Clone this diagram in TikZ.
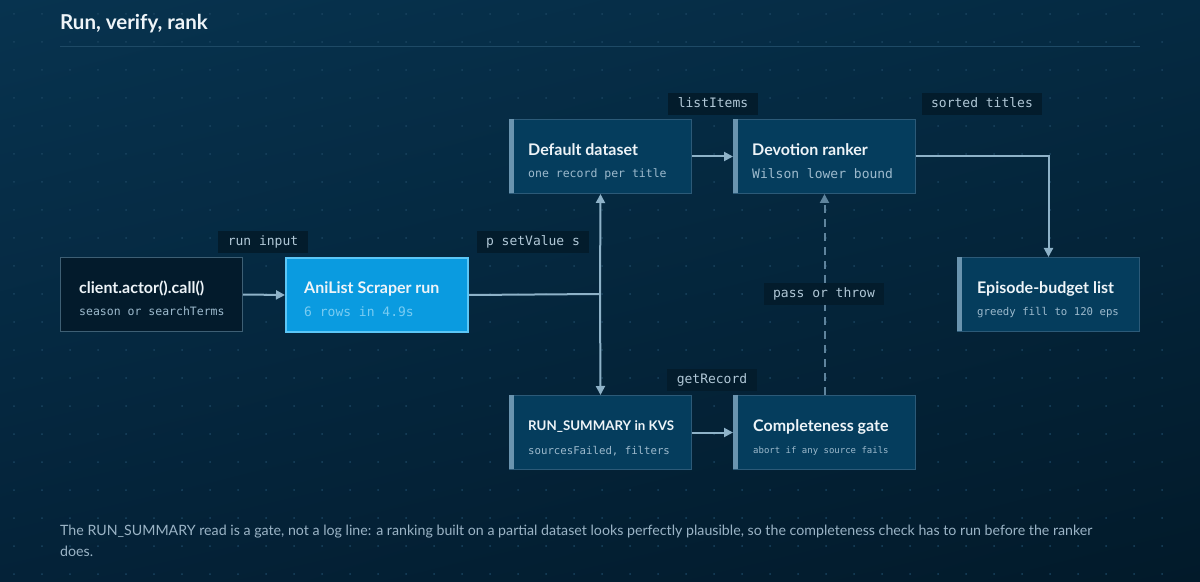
\documentclass[tikz,border=0pt]{standalone}
\usepackage{fontspec}
\setmainfont{Lato}
\newfontfamily\monofont{DejaVu Sans Mono}
\usetikzlibrary{arrows.meta,positioning,shadings}
\definecolor{bgA}{HTML}{07334F}
\definecolor{bgB}{HTML}{052A42}
\definecolor{bgC}{HTML}{042238}
\definecolor{bgD}{HTML}{021A2A}
\definecolor{dotc}{HTML}{1A4460}
\definecolor{rulec}{HTML}{1E4A66}
\definecolor{cardbg}{HTML}{053D5D}
\definecolor{cardline}{HTML}{2C5A78}
\definecolor{accent}{HTML}{6A94AF}
\definecolor{darkbg}{HTML}{031B2C}
\definecolor{darkline}{HTML}{3E5F74}
\definecolor{runbg}{HTML}{0A9BE0}
\definecolor{runline}{HTML}{5CC6F6}
\definecolor{runsub}{HTML}{79CCF2}
\definecolor{tagbg}{HTML}{031C2C}
\definecolor{linkc}{HTML}{8EB2C8}
\definecolor{gatec}{HTML}{5F849D}
\definecolor{headc}{HTML}{EEF4F8}
\definecolor{subc}{HTML}{9DBACD}
\definecolor{capc}{HTML}{9BB4C6}
\tikzset{
  card/.style={draw=cardline,line width=1bp,fill=cardbg,minimum width=182bp,minimum height=74bp,inner sep=0pt,anchor=north west},
  darkcard/.style={card,draw=darkline,fill=darkbg},
  runcard/.style={card,draw=runline,line width=2bp,fill=runbg},
  ttl/.style={anchor=base west,inner sep=0pt,text=headc,font=\fontsize{16bp}{18bp}\selectfont\bfseries},
  sub/.style={anchor=base west,inner sep=0pt,text=subc,font=\monofont\fontsize{11.5bp}{14bp}\selectfont},
  tag/.style={fill=tagbg,inner xsep=9.5bp,inner ysep=0pt,minimum height=22bp,text height=9bp,text depth=2.5bp,text=subc!80!white,font=\monofont\fontsize{13bp}{15bp}\selectfont},
  link/.style={draw=linkc,line width=2bp},
  ar/.style={link,-{Triangle[length=9bp,width=9bp]}},
  dashar/.style={draw=gatec,line width=2bp,dash pattern=on 8bp off 6bp,-{Triangle[length=9bp,width=9bp]}}
}
\begin{document}
\begin{tikzpicture}[x=1bp,y=-1bp]
% backdrop
\shade[upper left=bgA,upper right=bgB,lower left=bgC,lower right=bgD] (0,0) rectangle (1200,582);
\useasboundingbox (0,0) rectangle (1200,582);
\foreach \i in {14,42,...,1186}{\foreach \j in {14,42,...,574}{\fill[dotc] (\i,\j) circle (1bp);}}
\node[anchor=base west,inner sep=0pt,text=headc,font=\fontsize{20.5bp}{24bp}\selectfont\bfseries] (head) at (60,29.5) {Run, verify, rank};
\draw[rulec,line width=1bp] (60,47)--(1140,47);

% cards
\node[darkcard] (client) at (60,257) {};
\node[runcard] (run) at (285,257) {};
\node[card] (dflt) at (509,119) {};
\node[card] (devo) at (733,119) {};
\node[card] (epis) at (957,257) {};
\node[card] (summ) at (509,395) {};
\node[card] (gate) at (733,395) {};
\foreach \c in {dflt,devo,epis,summ,gate}{\fill[accent] (\c.north west) rectangle ++(5,74);}

\node[ttl] (client-t) at (79,294) {client.actor().call()};
\node[sub] (client-s) at (79,316) {season or searchTerms};
\node[ttl] (run-t) at (304,294) {AniList Scraper run};
\node[sub,text=runsub,font=\monofont\fontsize{13bp}{15bp}\selectfont] (run-s) at (304,317) {6 rows in 4.9s};
\node[ttl] (dflt-t) at (528,156) {Default dataset};
\node[sub] (dflt-s) at (528,178) {one record per title};
\node[ttl] (devo-t) at (752,156) {Devotion ranker};
\node[sub,font=\monofont\fontsize{13bp}{15bp}\selectfont] (devo-s) at (752,179) {Wilson lower bound};
\node[ttl] (epis-t) at (977,294) {Episode-budget list};
\node[sub,font=\monofont\fontsize{10.7bp}{13bp}\selectfont] (epis-s) at (977,316) {greedy fill to 120 eps};
\node[ttl,font=\fontsize{13.3bp}{16bp}\selectfont\bfseries] (summ-t) at (528,430) {RUN\_SUMMARY in KVS};
\node[sub,font=\monofont\fontsize{10.7bp}{13bp}\selectfont] (summ-s) at (528,454) {sourcesFailed, filters};
\node[ttl] (gate-t) at (753,431.5) {Completeness gate};
\node[sub,font=\monofont\fontsize{9bp}{11bp}\selectfont] (gate-s) at (753,453.5) {abort if any source fails};

% connectors
\coordinate (fan) at (600,294);
\draw[ar] (client.east) -- (run.west);
\draw[link] (run.east) -- (fan);
\draw[ar] (fan) -- (dflt.south);
\draw[ar] (fan) -- (summ.north);
\draw[ar] (dflt.east) -- (devo.west);
\draw[ar] (summ.east) -- (gate.west);
\draw[ar] (devo.east) -| (epis.north);
\draw[dashar] (gate.north) -- (devo.south);

% tags
\node[tag] (runin) at (263,242) {run input};
\node[tag] (setval) at (533,242) {p setValue s};
\node[tag] (items) at (713,104) {listItems};
\node[tag] (sorted) at (982,104) {sorted titles};
\node[tag] (rec) at (712,380) {getRecord};
\node[tag] (pass) at (824,294) {pass or throw};

% caption
\node[anchor=base west,inner sep=0pt,text=capc,font=\fontsize{14.2bp}{21bp}\selectfont] (cap1) at (60,535) {The RUN\_SUMMARY read is a gate, not a log line: a ranking built on a partial dataset looks perfectly plausible, so the completeness check has to run before the ranker};
\node[anchor=base west,inner sep=0pt,text=capc,font=\fontsize{14.2bp}{21bp}\selectfont] (cap2) at (60,556) {does.};
\end{tikzpicture}
\end{document}
